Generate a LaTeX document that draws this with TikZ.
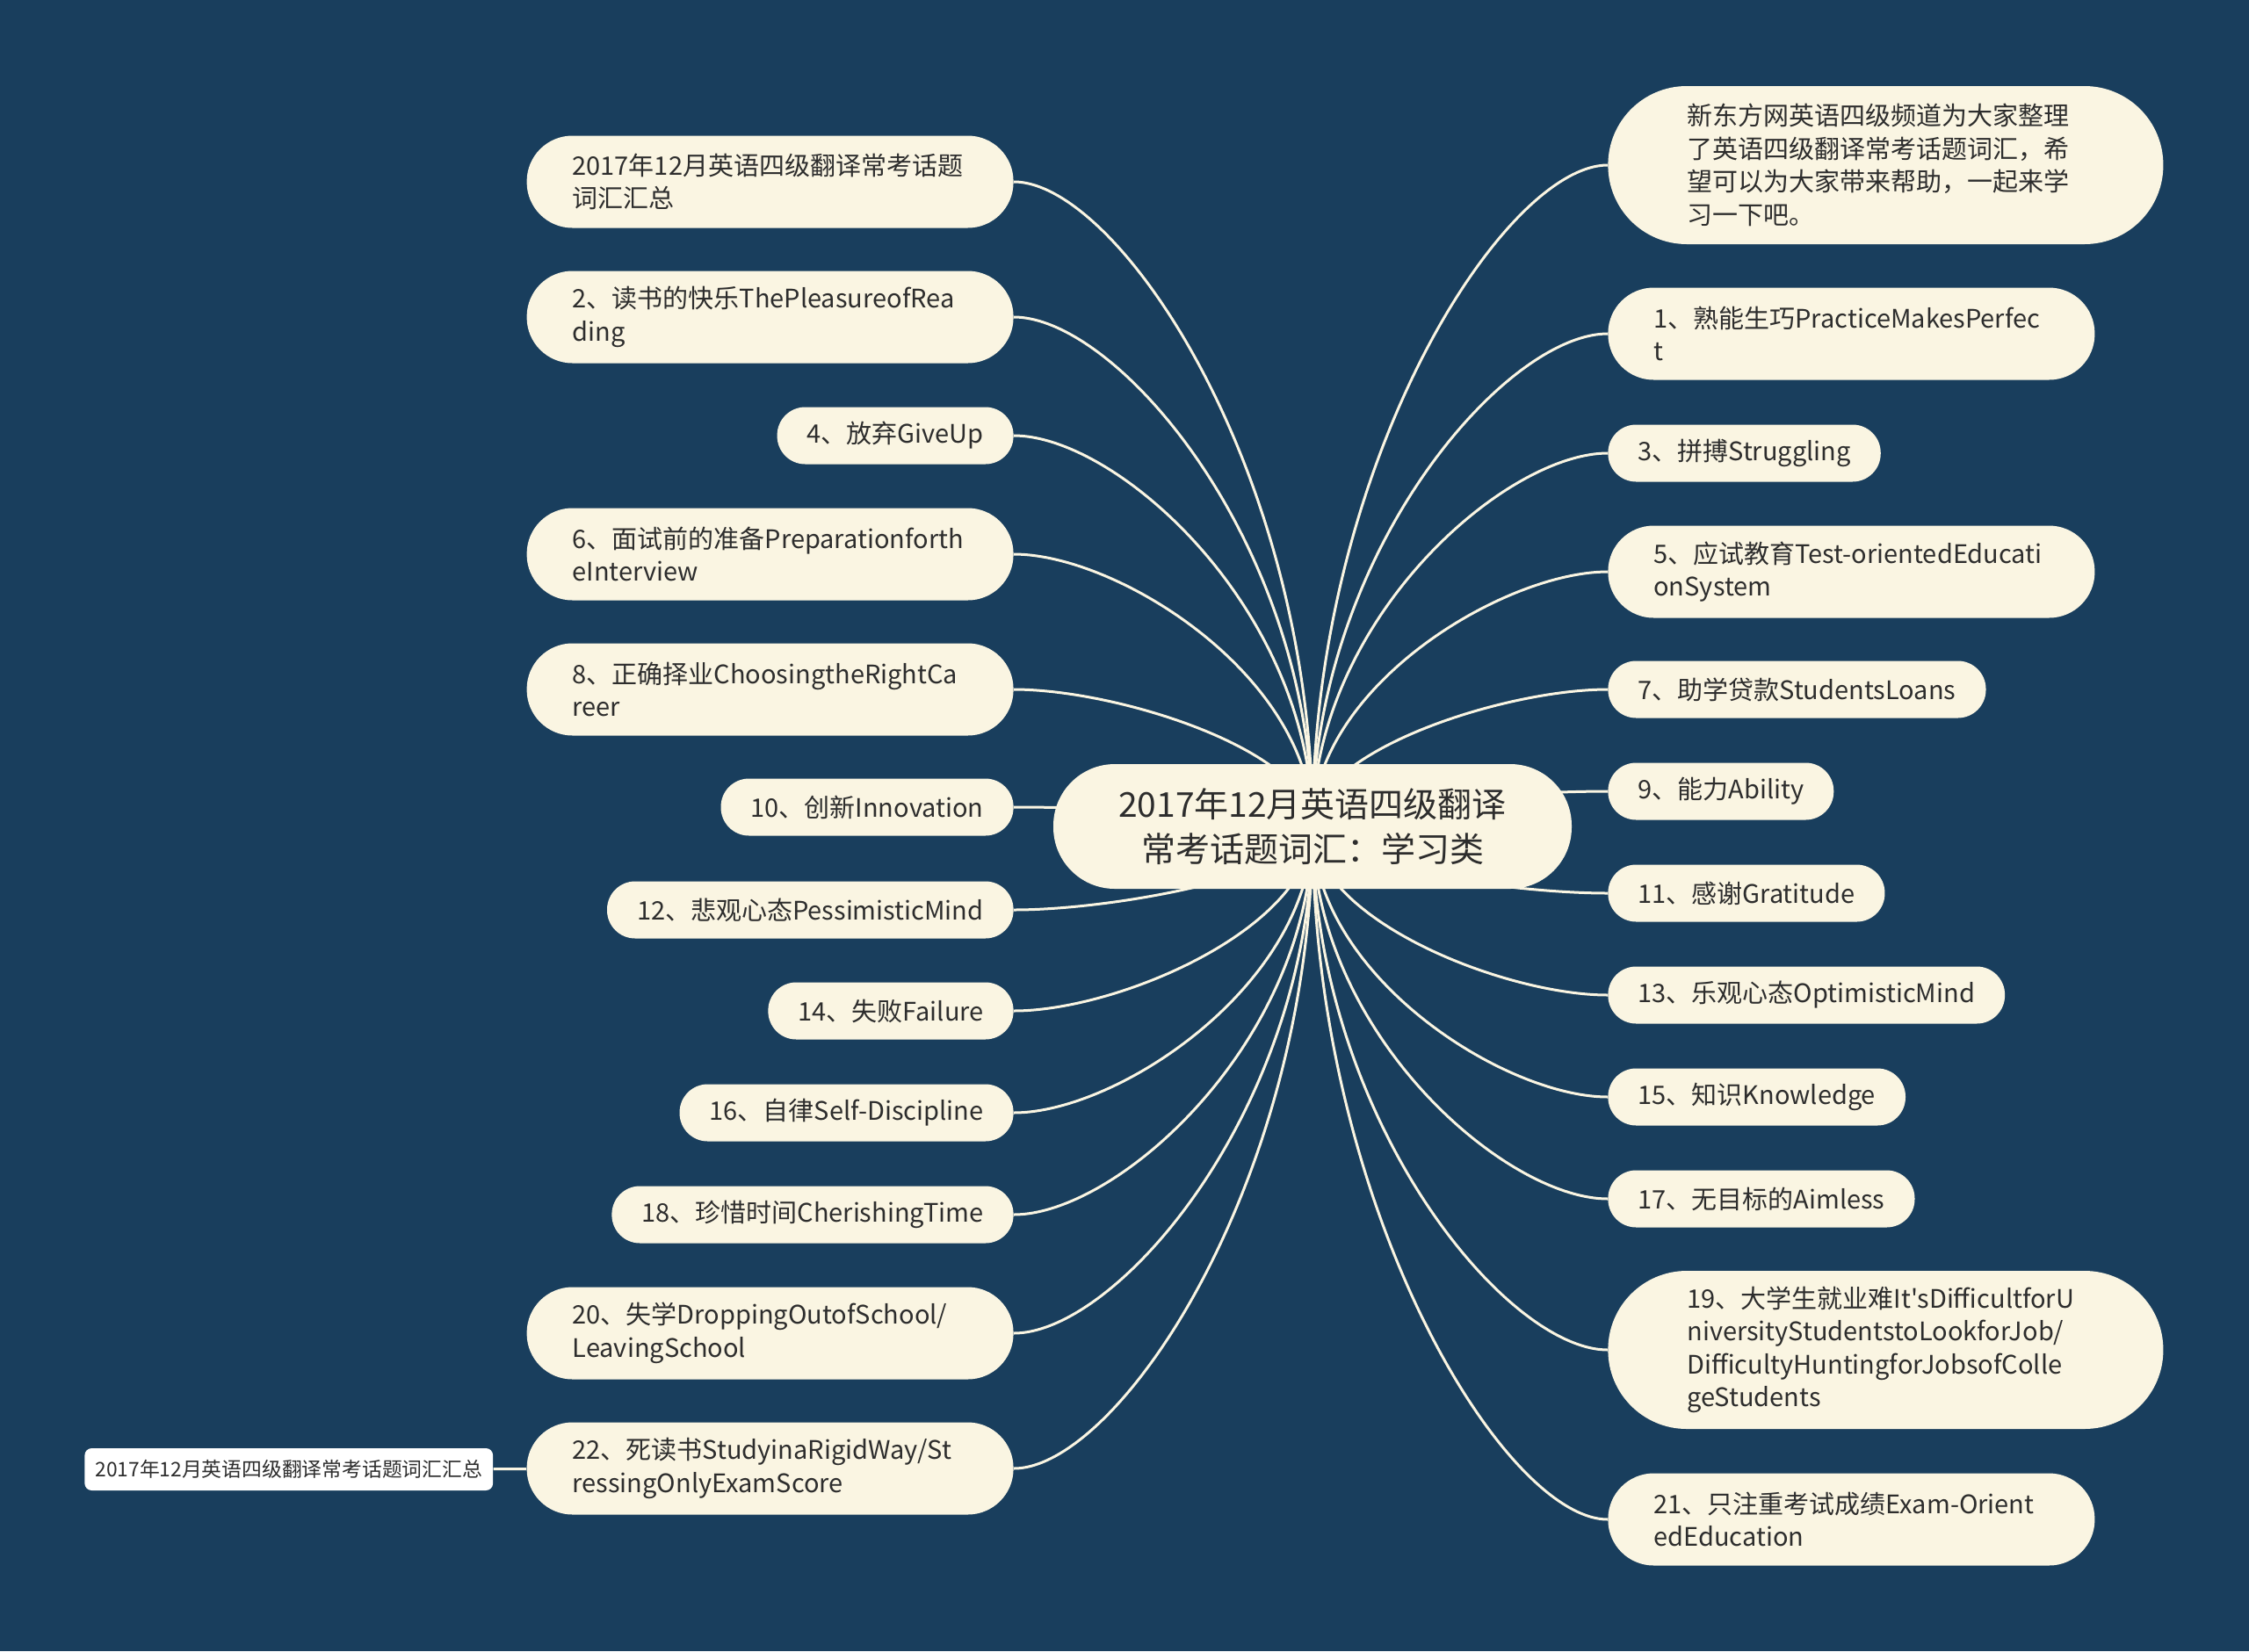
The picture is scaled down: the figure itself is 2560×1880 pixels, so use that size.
\documentclass[tikz,border=0pt]{standalone}
\usepackage{fontspec}
\newfontfamily\cjk{Noto Sans CJK SC}
\usetikzlibrary{calc,backgrounds}

\definecolor{navy}{RGB}{25,62,93}
\definecolor{cream}{RGB}{250,245,226}
\definecolor{ink}{RGB}{45,45,45}

\tikzset{
  topic/.style={rectangle, rounded corners=16pt, fill=cream, text=ink, inner xsep=17pt, inner ysep=0pt,
    minimum height=32.5pt, align=left, font=\cjk\fontsize{14.5pt}{18.75pt}\selectfont},
  two/.style={text width=225pt, minimum height=52.5pt, rounded corners=26pt, inner xsep=26pt},
  four/.style={text width=226pt, minimum height=90pt, rounded corners=44.8pt, inner xsep=45pt},
  root/.style={rectangle, rounded corners=35pt, fill=cream, text=ink, inner xsep=36pt, inner ysep=0pt,
    minimum height=71pt, text width=223pt, align=center,
    font=\cjk\fontsize{19.5pt}{25.5pt}\selectfont},
  note/.style={rectangle, rounded corners=4pt, fill=white, text=ink, inner xsep=6pt,
    minimum width=230.5pt, minimum height=24pt, font=\cjk\fontsize{11.4pt}{14pt}\selectfont},
  branch/.style={draw=cream, line width=1.5pt}
}

\begin{document}
\begin{tikzpicture}[x=0.5pt, y=-0.5pt]
    \useasboundingbox (0, 0) rectangle (2560, 1880);
    % centre
    \node[root] (root) at (1494, 941) {2017年12月英语四级翻译\\常考话题词汇：学习类};
    % left side
    \node[topic, two, anchor=east] (l1) at (1154, 207) {2017年12月英语四级翻译常考话题\\词汇汇总};
    \node[topic, two, anchor=east] (l2) at (1154, 361) {2、读书的快乐ThePleasureofRea\\ding};
    \node[topic, anchor=east] (l3) at (1154, 496) {4、放弃GiveUp};
    \node[topic, two, anchor=east] (l4) at (1154, 631) {6、面试前的准备Preparationforth\\eInterview};
    \node[topic, two, anchor=east] (l5) at (1154, 785) {8、正确择业ChoosingtheRightCa\\reer};
    \node[topic, anchor=east] (l6) at (1154, 919) {10、创新Innovation};
    \node[topic, anchor=east] (l7) at (1154, 1036) {12、悲观心态PessimisticMind};
    \node[topic, anchor=east] (l8) at (1154, 1151) {14、失败Failure};
    \node[topic, anchor=east] (l9) at (1154, 1267) {16、自律Self-Discipline};
    \node[topic, anchor=east] (l10) at (1154, 1383) {18、珍惜时间CherishingTime};
    \node[topic, two, anchor=east] (l11) at (1154, 1518) {20、失学DroppingOutofSchool/\\LeavingSchool};
    \node[topic, two, anchor=east] (l12) at (1154, 1672) {22、死读书StudyinaRigidWay/St\\ressingOnlyExamScore};
    \node[note, anchor=west] (sum) at (96, 1673) {2017年12月英语四级翻译常考话题词汇汇总};
    % right side
    \node[topic, four, anchor=west] (r1) at (1830, 188) {新东方网英语四级频道为大家整理\\了英语四级翻译常考话题词汇，希\\望可以为大家带来帮助，一起来学\\习一下吧。};
    \node[topic, two, anchor=west] (r2) at (1830, 380) {1、熟能生巧PracticeMakesPerfec\\t};
    \node[topic, anchor=west] (r3) at (1830, 516) {3、拼搏Struggling};
    \node[topic, two, anchor=west] (r4) at (1830, 651) {5、应试教育Test-orientedEducati\\onSystem};
    \node[topic, anchor=west] (r5) at (1830, 785) {7、助学贷款StudentsLoans};
    \node[topic, anchor=west] (r6) at (1830, 901) {9、能力Ability};
    \node[topic, anchor=west] (r7) at (1830, 1017) {11、感谢Gratitude};
    \node[topic, anchor=west] (r8) at (1830, 1133) {13、乐观心态OptimisticMind};
    \node[topic, anchor=west] (r9) at (1830, 1249) {15、知识Knowledge};
    \node[topic, anchor=west] (r10) at (1830, 1365) {17、无目标的Aimless};
    \node[topic, four, anchor=west] (r11) at (1830, 1537) {19、大学生就业难It'sDifficultforU\\niversityStudentstoLookforJob/\\DifficultyHuntingforJobsofColle\\geStudents};
    \node[topic, two, anchor=west] (r12) at (1830, 1730) {21、只注重考试成绩Exam-Orient\\edEducation};
    % background and branches
    \begin{pgfonlayer}{background}
        \fill[navy] (0, 0) rectangle (2560, 1880);
        \foreach \i in {1,...,12} {
            \draw[branch] (root.center) .. controls ($(root.center)!0.55!(root.center |- l\i.east)$)
                and ($(l\i.east)!0.35!(root.center |- l\i.east)$) .. (l\i.east);
            \draw[branch] (root.center) .. controls ($(root.center)!0.55!(root.center |- r\i.west)$)
                and ($(r\i.west)!0.35!(root.center |- r\i.west)$) .. (r\i.west);
        }
        \draw[branch] (sum) -- (l12);
    \end{pgfonlayer}
\end{tikzpicture}
\end{document}
